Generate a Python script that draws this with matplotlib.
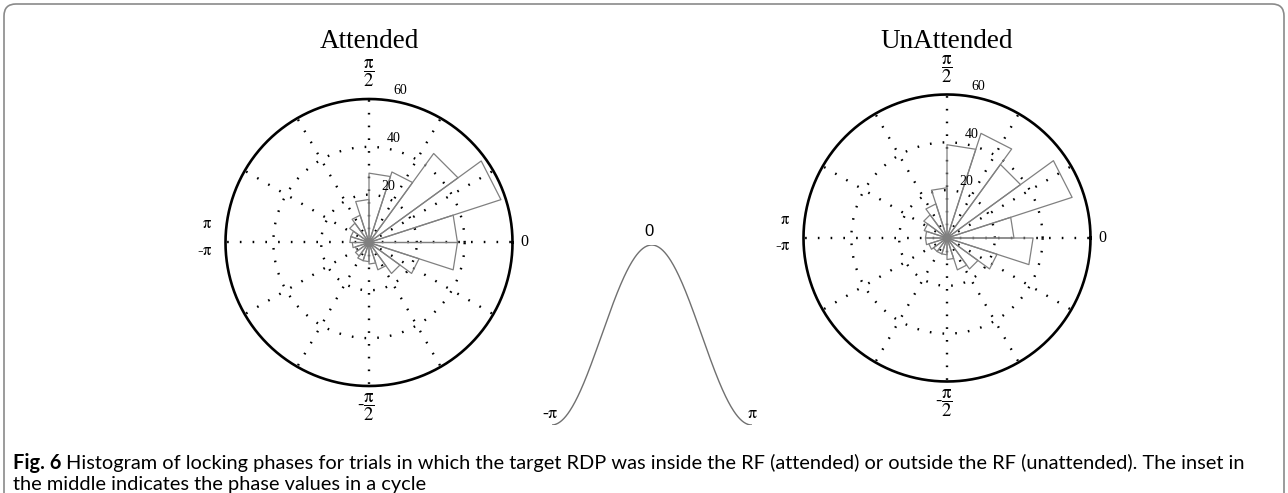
import numpy as np
import matplotlib
matplotlib.use("Agg")
import matplotlib.pyplot as plt
from matplotlib.patches import FancyBboxPatch

plt.rcParams['mathtext.fontset'] = 'stix'
plt.rcParams['font.family'] = 'Liberation Serif'

# rose histogram: 20 bins of 18 deg, counter-clockwise from phase 0
bin_edges_deg = np.arange(0, 361, 18)
attended_counts = [37, 58, 46, 31, 29, 18, 12, 10, 8, 8, 7, 6, 7, 8, 8, 9, 12, 16, 22, 37]
unattended_counts = [28, 55, 38, 46, 39, 21, 15, 12, 10, 9, 9, 8, 7, 7, 7, 9, 14, 16, 22, 36]
r_ticks = [20, 40]
r_max = 60
r_labels = ['20', '40', '60']
spoke_deg = np.arange(0, 360, 30)

# inset: one cycle of phase
inset_phase = np.linspace(-np.pi, np.pi, 300)
inset_wave = np.cos(inset_phase)

caption_bold = 'Fig. 6'
caption_1 = ('Histogram of locking phases for trials in which the target RDP was inside the RF '
             '(attended) or outside the RF (unattended). The inset in')
caption_2 = 'the middle indicates the phase values in a cycle'

W, H = 1288, 493
fig = plt.figure(figsize=(W / 100, H / 100), dpi=100)

DOT = (0, (0.7, 4.7))
BAR_COLOR = '#808080'


def put(ax, rad, dx, dy, s, **kw):
    # place a label at a pixel offset from the polar centre
    ax.text(np.arctan2(dy, dx), np.hypot(dx, dy) / rad * r_max, s,
            ha='center', va='center', clip_on=False, **kw)


def rose(cx, cy, rad, counts, title, title_base):
    ax = fig.add_axes([(cx - rad) / W, (H - cy - rad) / H, 2 * rad / W, 2 * rad / H],
                      projection='polar')
    ax.set_ylim(0, r_max)
    ax.set_xticks([])
    ax.set_yticks([])
    ax.grid(False)
    ax.spines['polar'].set_visible(False)

    circ = np.linspace(0, 2 * np.pi, 721)
    for rt in r_ticks:
        ax.plot(circ, np.full_like(circ, rt), color='black', lw=1.7, ls=DOT,
                dash_capstyle='butt')
    for a in spoke_deg:
        t = np.deg2rad(a)
        ax.plot([t, t], [0, r_max], color='black', lw=1.7, ls=DOT, dash_capstyle='butt')
    ax.plot(circ, np.full_like(circ, r_max), color='black', lw=1.9, clip_on=False)

    edges = np.deg2rad(bin_edges_deg)
    for i, c in enumerate(counts):
        ax.plot([0, edges[i], edges[i + 1], 0], [0, c, c, 0], color=BAR_COLOR, lw=0.9)

    put(ax, rad, 155, 0, '0', fontsize=11.5)
    put(ax, rad, 0, 169, r'$\dfrac{\mathrm{\pi}}{2}$', fontsize=13.5)
    put(ax, rad, -3, -165, r'-$\dfrac{\mathrm{\pi}}{2}$', fontsize=13.5)
    put(ax, rad, -162, 18, r'$\mathrm{\pi}$', fontsize=12)
    put(ax, rad, -164, -8.5, r'-$\mathrm{\pi}$', fontsize=12)
    for (dx, dy), lab in zip([(19.4, 56.5), (25, 103.6), (31, 152)], r_labels):
        put(ax, rad, dx, dy, lab, fontsize=10)

    fig.text(cx / W, (H - title_base) / H, title, ha='center', va='baseline', fontsize=19.5)
    return ax


rose(369, 242.5, 143.5, attended_counts, 'Attended', 47.5)
rose(947, 238, 143.5, unattended_counts, 'UnAttended', 48.5)

# inset
ins = fig.add_axes([551.7 / W, 68 / H, 200 / W, 180 / H])
ins.plot(inset_phase, inset_wave, color='#707070', lw=1.0)
ins.set_xlim(-np.pi, np.pi)
ins.set_ylim(-1, 1)
ins.axis('off')
fig.text(649 / W, (H - 232) / H, '0', ha='center', va='center', fontsize=12,
         family='Liberation Sans')
fig.text(550 / W, (H - 413) / H, r'-$\mathrm{\pi}$', ha='center', va='center', fontsize=13)
fig.text(752 / W, (H - 413) / H, r'$\mathrm{\pi}$', ha='center', va='center', fontsize=13)

# caption, sized so that the first line spans the frame like the original
renderer = fig.canvas.get_renderer()
x_start, x_end = 13, 1246
y1 = (H - 469) / H
y2 = (H - 490) / H


def caption_width(fs):
    a = fig.text(0, 0, caption_bold, fontsize=fs, fontweight='bold', family='Lato')
    b = fig.text(0, 0, caption_1, fontsize=fs, family='Lato')
    w = a.get_window_extent(renderer).width + b.get_window_extent(renderer).width
    a.remove()
    b.remove()
    return w


cap_fs = 11 * (x_end - x_start - 5) / caption_width(11)
tb = fig.text(x_start / W, y1, caption_bold, fontsize=cap_fs, fontweight='bold', family='Lato',
              va='baseline')
bb = tb.get_window_extent(renderer)
fig.text((bb.x1 + 5) / W, y1, caption_1, fontsize=cap_fs, family='Lato', va='baseline')
fig.text(x_start / W, y2, caption_2, fontsize=cap_fs, family='Lato', va='baseline')

# rounded frame
frame = FancyBboxPatch((4, -40), 1280, 489 + 40, boxstyle='round,pad=0,rounding_size=12',
                       transform=None, fill=False, edgecolor='#8a8a8a', lw=1.2)
fig.patches.append(frame)

fig.savefig('out.png', dpi=100)
